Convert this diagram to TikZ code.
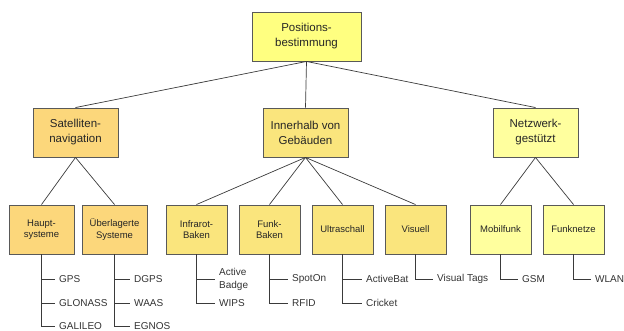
\documentclass[tikz,border=0pt]{standalone}
\usepackage{fontspec}
\setmainfont{Liberation Sans}
\definecolor{ctop}{HTML}{FFFF80}
\definecolor{csat}{HTML}{FCD77B}
\definecolor{cin}{HTML}{FAE57D}
\definecolor{cnet}{HTML}{FFFF9E}
\definecolor{cline}{HTML}{3A3A3A}
\begin{document}
\begin{tikzpicture}[x=1pt,y=-1pt,
  box/.style={draw=black!65,line width=0.9pt,minimum height=49pt,inner sep=1pt,align=center,text=black!85},
  big/.style={box,minimum width=85pt,font=\fontsize{11.5}{15}\selectfont},
  small/.style={box,minimum width=61pt,font=\fontsize{9.5}{11.5}\selectfont},
  leaf/.style={anchor=west,inner xsep=4pt,inner ysep=1pt,align=left,text=black!80,font=\fontsize{10}{13}\selectfont},
  conn/.style={draw=cline,line width=0.7pt}]
\useasboundingbox (0,0) rectangle (624,331);
\node[box,minimum width=109pt,fill=ctop,font=\fontsize{11.5}{15}\selectfont] (top) at (306.5,36.5) {Positions-\\bestimmung};
\node[big,fill=csat] (sat) at (75.5,132.5) {Satelliten-\\navigation};
\node[big,fill=cin] (inn) at (305.5,132.5) {Innerhalb von\\Gebäuden};
\node[big,fill=cnet] (net) at (535.5,132.5) {Netzwerk-\\gestützt};
\node[small,fill=csat,minimum width=65pt] (hau) at (41.5,229.5) {Haupt-\\systeme};
\node[small,fill=csat,minimum width=65pt] (ueb) at (114.5,229.5) {Überlagerte\\Systeme};
\node[small,fill=cin] (inf) at (196.5,229.5) {Infrarot-\\Baken};
\node[small,fill=cin] (fun) at (269.5,229.5) {Funk-\\Baken};
\node[small,fill=cin] (ult) at (342.5,229.5) {Ultraschall};
\node[small,fill=cin] (vis) at (415.5,229.5) {Visuell};
\node[small,fill=cnet] (mob) at (500.5,229.5) {Mobilfunk};
\node[small,fill=cnet] (fnz) at (573.5,229.5) {Funknetze};
\foreach \c in {sat,inn,net} \draw[conn] (top.south) -- (\c.north);
\foreach \c in {hau,ueb} \draw[conn] (sat.south) -- (\c.north);
\foreach \c in {inf,fun,ult,vis} \draw[conn] (inn.south) -- (\c.north);
\foreach \c in {mob,fnz} \draw[conn] (net.south) -- (\c.north);
% leaves
\node[leaf] (gps) at (55,279) {GPS};
\node[leaf] (glo) at (55,303) {GLONASS};
\node[leaf] (gal) at (55,326) {GALILEO};
\node[leaf] (dgps) at (130,279) {DGPS};
\node[leaf] (waas) at (130,303) {WAAS};
\node[leaf] (egn) at (130,326) {EGNOS};
\node[leaf] (ab) at (215,279) {Active\\Badge};
\node[leaf] (wips) at (215,303) {WIPS};
\node[leaf] (spot) at (288,279) {SpotOn};
\node[leaf] (rfid) at (288,303) {RFID};
\node[leaf] (abat) at (362,279) {ActiveBat};
\node[leaf] (cri) at (362,303) {Cricket};
\node[leaf] (vt) at (433,279) {Visual Tags};
\node[leaf] (gsm) at (518,279) {GSM};
\node[leaf] (wlan) at (591,279) {WLAN};
\foreach \b/\l in {hau/gps,hau/glo,hau/gal,ueb/dgps,ueb/waas,ueb/egn,inf/ab,inf/wips,fun/spot,fun/rfid,ult/abat,ult/cri,vis/vt,mob/gsm,fnz/wlan}
  \draw[conn] (\b.south) |- (\l.west);
\end{tikzpicture}
\end{document}
